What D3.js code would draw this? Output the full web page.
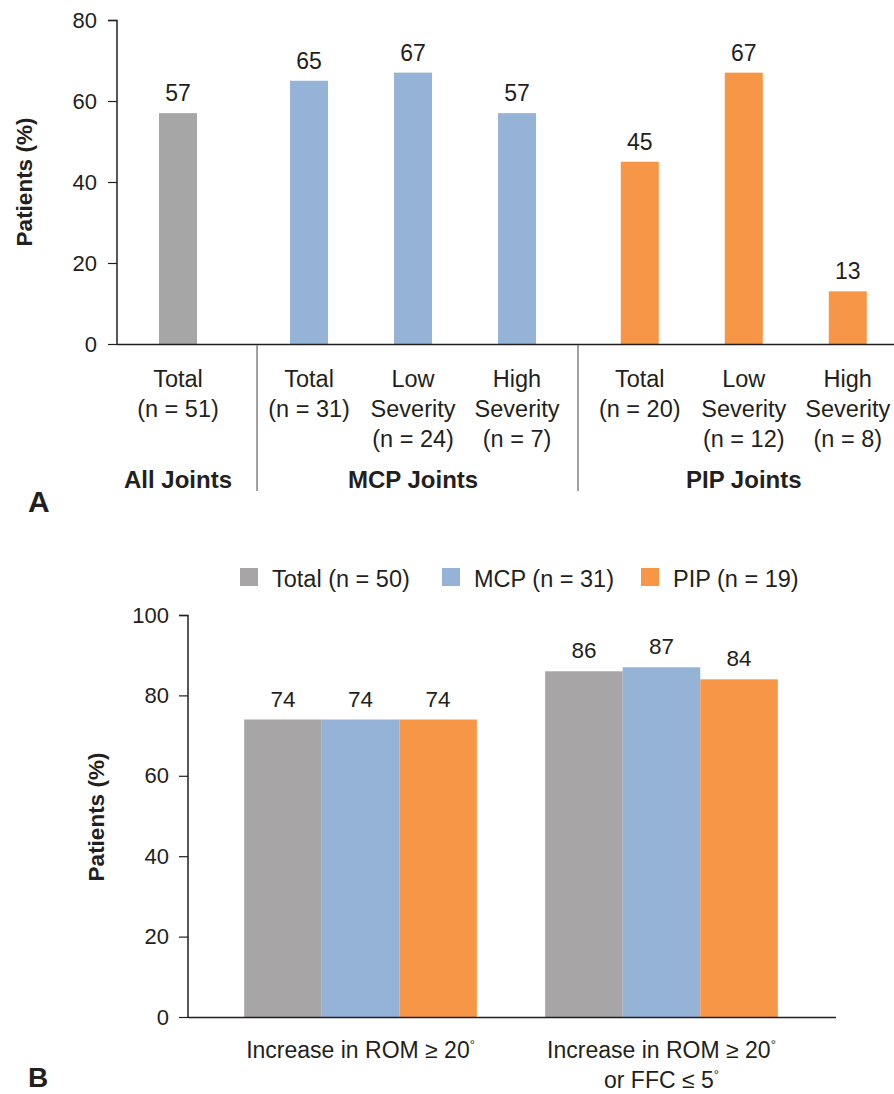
<!DOCTYPE html>
<html>
<head>
<meta charset="utf-8">
<script src="https://cdn.jsdelivr.net/npm/d3@7"></script>
<style>
  body { margin: 0; background: #fff; }
  text { fill: #231f20; }
</style>
</head>
<body>
<svg id="chart" width="894" height="1094"></svg>
<script>
// panel A data
const catsA = ['Total|(n = 51)', 'Total|(n = 31)', 'Low|Severity|(n = 24)', 'High|Severity|(n = 7)',
               'Total|(n = 20)', 'Low|Severity|(n = 12)', 'High|Severity|(n = 8)'];
const groupOfA = [0, 1, 1, 1, 2, 2, 2];
const valuesA = [57, 65, 67, 57, 45, 67, 13];
const groupsA = ['All Joints', 'MCP Joints', 'PIP Joints'];
const ticksA = [0, 20, 40, 60, 80];

// panel B data
const catsB = ['Increase in ROM ≥ 20°', 'Increase in ROM ≥ 20°|or FFC ≤ 5°'];
const seriesB = ['Total (n = 50)', 'MCP (n = 31)', 'PIP (n = 19)'];
const valuesB = [[74, 74, 74], [86, 87, 84]];   // per category: total, mcp, pip
const ticksB = [0, 20, 40, 60, 80, 100];

const colorsA = ['#a6a6a6', '#95b3d7', '#f79646'];
const colorsB = ['#a7a5a6', '#95b3d7', '#f79646'];

const svg = d3.select('#chart');
const font = 'Liberation Sans, Arial, Helvetica, sans-serif';
const ink = '#231f20';

// write text with a degree sign as small superscript
function degText(sel, str) {
    let parts = str.split('°');
    sel.append('tspan').text(parts[0]);
    if (parts.length > 1) {
        sel.append('tspan').attr('dy', -9).attr('font-size', 13).text('°');
        sel.append('tspan').attr('dy', 9).text(parts[1]);
    }
}

// ---------------- panel A ----------------
(function () {
    let g = svg.append('g');
    let y = d3.scaleLinear().domain([0, 80]).range([344, 20]);
    // slot position: category index plus gap per group
    let groupGap = [0, 0.26, 0.44];
    let slot = (i) => i + groupGap[groupOfA[i]];
    let x = d3.scaleLinear().domain([0, 1]).range([178, 282]);
    let barW = 38;

    // y axis
    let yAxis = d3.axisLeft(y).tickValues(ticksA).tickSize(9).tickPadding(11);
    let ya = g.append('g').attr('transform', 'translate(117,0)').call(yAxis);
    ya.select('.domain').attr('stroke', ink).attr('stroke-width', 1.5).attr('d', 'M-9,20.5H0V344');
    ya.selectAll('.tick line').attr('stroke', ink).attr('stroke-width', 1.2);
    ya.selectAll('.tick text').attr('font-family', font).attr('font-size', 22).attr('fill', ink);

    // bars
    g.selectAll('rect.bar').data(valuesA).enter().append('rect')
        .attr('x', (d, i) => x(slot(i)) - barW / 2)
        .attr('y', d => y(d))
        .attr('width', barW)
        .attr('height', d => y(0) - y(d))
        .attr('fill', (d, i) => colorsA[groupOfA[i]]);

    g.selectAll('text.val').data(valuesA).enter().append('text')
        .attr('x', (d, i) => x(slot(i)))
        .attr('y', d => y(d) - 12)
        .attr('text-anchor', 'middle')
        .attr('font-family', font).attr('font-size', 23)
        .text(d => d);

    // baseline
    g.append('line').attr('x1', 117).attr('x2', 894).attr('y1', 344.5).attr('y2', 344.5)
        .attr('stroke', ink).attr('stroke-width', 1.5);

    // group dividers
    [0.76, 3.846].forEach(s => {
        g.append('line').attr('x1', x(s)).attr('x2', x(s)).attr('y1', 345).attr('y2', 491)
            .attr('stroke', '#808080').attr('stroke-width', 1.5);
    });

    // category labels
    catsA.forEach((c, i) => {
        let lines = c.split('|');
        let t = g.append('text').attr('text-anchor', 'middle')
            .attr('font-family', font).attr('font-size', 23.5);
        lines.forEach((l, j) => {
            t.append('tspan').attr('x', x(slot(i))).attr('y', 387 + j * 30).text(l);
        });
    });

    // group labels
    let groupCenters = [x(0), x(slot(2)), x(slot(5))];
    groupsA.forEach((gname, k) => {
        g.append('text').attr('x', groupCenters[k]).attr('y', 488)
            .attr('text-anchor', 'middle').attr('font-family', font)
            .attr('font-weight', 'bold').attr('font-size', 24).text(gname);
    });

    g.append('text').attr('transform', 'translate(32,182) rotate(-90)')
        .attr('text-anchor', 'middle').attr('font-family', font)
        .attr('font-weight', 'bold').attr('font-size', 22.5).text('Patients (%)');

    g.append('text').attr('x', 28).attr('y', 512).attr('font-family', font)
        .attr('font-weight', 'bold').attr('font-size', 30).text('A');
})();

// ---------------- panel B ----------------
(function () {
    let g = svg.append('g');
    let y = d3.scaleLinear().domain([0, 100]).range([1017, 615]);
    let x0 = d3.scaleBand().domain(catsB).range([187, 835]).paddingInner(0.227).paddingOuter(0.19);
    let x1 = d3.scaleBand().domain(seriesB).range([0, x0.bandwidth()]);

    // legend
    let legendX = [240, 442, 641];
    seriesB.forEach((s, i) => {
        g.append('rect').attr('x', legendX[i]).attr('y', 568).attr('width', 18).attr('height', 18)
            .attr('fill', colorsB[i]);
        g.append('text').attr('x', legendX[i] + 32).attr('y', 587)
            .attr('font-family', font).attr('font-size', 23.5).text(s);
    });

    // y axis
    let yAxis = d3.axisLeft(y).tickValues(ticksB).tickSize(9).tickPadding(10);
    let ya = g.append('g').attr('transform', 'translate(188,0)').call(yAxis);
    ya.select('.domain').attr('stroke', ink).attr('stroke-width', 1.5).attr('d', 'M-9,615.5H0V1017');
    ya.selectAll('.tick line').attr('stroke', ink).attr('stroke-width', 1.2);
    ya.selectAll('.tick text').attr('font-family', font).attr('font-size', 22).attr('fill', ink);

    // bars
    let grp = g.selectAll('g.cat').data(catsB).enter().append('g')
        .attr('transform', d => 'translate(' + x0(d) + ',0)');
    grp.selectAll('rect').data((d, i) => valuesB[i].map((v, k) => ({ s: seriesB[k], v: v, k: k })))
        .enter().append('rect')
        .attr('x', d => x1(d.s))
        .attr('y', d => y(d.v))
        .attr('width', x1.bandwidth())
        .attr('height', d => y(0) - y(d.v))
        .attr('fill', d => colorsB[d.k]);
    grp.selectAll('text').data((d, i) => valuesB[i].map((v, k) => ({ s: seriesB[k], v: v })))
        .enter().append('text')
        .attr('x', d => x1(d.s) + x1.bandwidth() / 2)
        .attr('y', d => y(d.v) - 13)
        .attr('text-anchor', 'middle')
        .attr('font-family', font).attr('font-size', 22.5)
        .text(d => d.v);

    // baseline
    g.append('line').attr('x1', 188).attr('x2', 836).attr('y1', 1017.5).attr('y2', 1017.5)
        .attr('stroke', ink).attr('stroke-width', 1.5);

    // category labels
    catsB.forEach(c => {
        c.split('|').forEach((l, j) => {
            let t = g.append('text').attr('x', x0(c) + x0.bandwidth() / 2).attr('y', 1058 + j * 30)
                .attr('text-anchor', 'middle').attr('font-family', font).attr('font-size', 23);
            degText(t, l);
        });
    });

    g.append('text').attr('transform', 'translate(104,817) rotate(-90)')
        .attr('text-anchor', 'middle').attr('font-family', font)
        .attr('font-weight', 'bold').attr('font-size', 22.5).text('Patients (%)');

    g.append('text').attr('x', 28).attr('y', 1087).attr('font-family', font)
        .attr('font-weight', 'bold').attr('font-size', 28).text('B');
})();
</script>
</body>
</html>
